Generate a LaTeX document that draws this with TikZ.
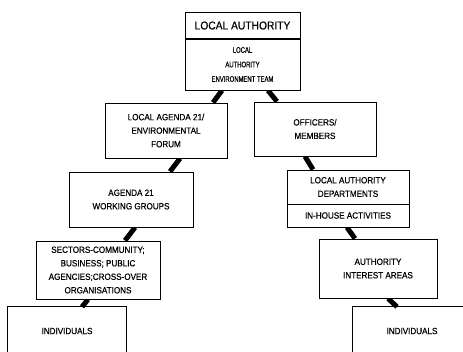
\documentclass[tikz,border=0pt]{standalone}
\usepackage{fontspec}
\setmainfont{Liberation Sans}
\newfontfamily\cond[FakeStretch=0.9,FakeBold=0.4]{Liberation Sans}
\newfontfamily\condn[FakeStretch=0.74,FakeBold=0.4]{Liberation Sans}
\usetikzlibrary{backgrounds}
\tikzset{
  box/.style={draw, line width=0.9pt, fill=white, align=center, inner sep=0pt,
    font=\cond\fontsize{9}{13.5}\selectfont},
  openbox/.style={align=center, inner sep=0pt, font=\cond\fontsize{9}{13.5}\selectfont},
  conn/.style={line width=5pt, line cap=butt}
}
\begin{document}
\begin{tikzpicture}[x=1pt,y=-1pt]
\useasboundingbox (0,0) rectangle (463,351);
\clip (0,0) rectangle (463,351);
\node[box, minimum width=115pt, minimum height=27pt, font=\cond\fontsize{11.4}{13}\selectfont] (top1) at (242.5,25.5) {LOCAL AUTHORITY};
\node[box, minimum width=115pt, minimum height=51pt, font=\condn\fontsize{8}{14.5}\selectfont] (top2) at (242.5,64.5) {LOCAL\\AUTHORITY\\ENVIRONMENT TEAM};
\draw[line width=2pt] (top1.south west) -- (top1.south east);
\node[box, minimum width=122pt, minimum height=55pt] (L1) at (166,130.5) {LOCAL AGENDA 21/\\ENVIRONMENTAL\\FORUM};
\node[box, minimum width=122pt, minimum height=54pt] (R1) at (315,129) {OFFICERS/\\MEMBERS};
\node[box, minimum width=124pt, minimum height=55pt] (L2) at (131,199.5) {AGENDA 21\\WORKING GROUPS};
\node[box, minimum width=122pt, minimum height=34pt] (R2a) at (348,187) {LOCAL AUTHORITY\\DEPARTMENTS};
\node[box, minimum width=122pt, minimum height=23pt] (R2b) at (348,215.5) {IN-HOUSE ACTIVITIES};
\node[box, minimum width=124pt, minimum height=58pt] (L3) at (98,270) {SECTORS-COMMUNITY;\\BUSINESS; PUBLIC\\AGENCIES;CROSS-OVER\\ORGANISATIONS};
\node[box, minimum width=118pt, minimum height=59pt] (R3) at (378,268.5) {AUTHORITY\\INTEREST AREAS};
\node[openbox, minimum width=118pt, minimum height=48pt] (L4) at (67,331) {INDIVIDUALS};
\node[openbox, minimum width=118pt, minimum height=48pt] (R4) at (412,331) {INDIVIDUALS};
\draw[line width=0.9pt] (L4.south west) -- (L4.north west) -- (L4.north east) -- (L4.south east);
\draw[line width=0.9pt] (R4.south west) -- (R4.north west) -- (R4.north east) -- (R4.south east);
\begin{pgfonlayer}{background}
\draw[conn] ([xshift=-20.5pt]top2.south) -- ([xshift=47pt]L1.north);
\draw[conn] ([xshift=25.5pt]top2.south) -- ([xshift=-38pt]R1.north);
\draw[conn] ([xshift=14pt]L1.south) -- ([xshift=39pt]L2.north);
\draw[conn] ([xshift=-10pt]R1.south) -- ([xshift=-35pt]R2a.north);
\draw[conn] ([xshift=4pt]L2.south) -- ([xshift=27pt]L3.north);
\draw[conn] ([xshift=-1pt]R2b.south) -- ([xshift=-23pt]R3.north);
\draw[conn] ([xshift=-10pt]L3.south) -- ([xshift=15pt]L4.north);
\draw[conn] ([xshift=10pt]R3.south) -- ([xshift=-15pt]R4.north);
\end{pgfonlayer}
\end{tikzpicture}
\end{document}
